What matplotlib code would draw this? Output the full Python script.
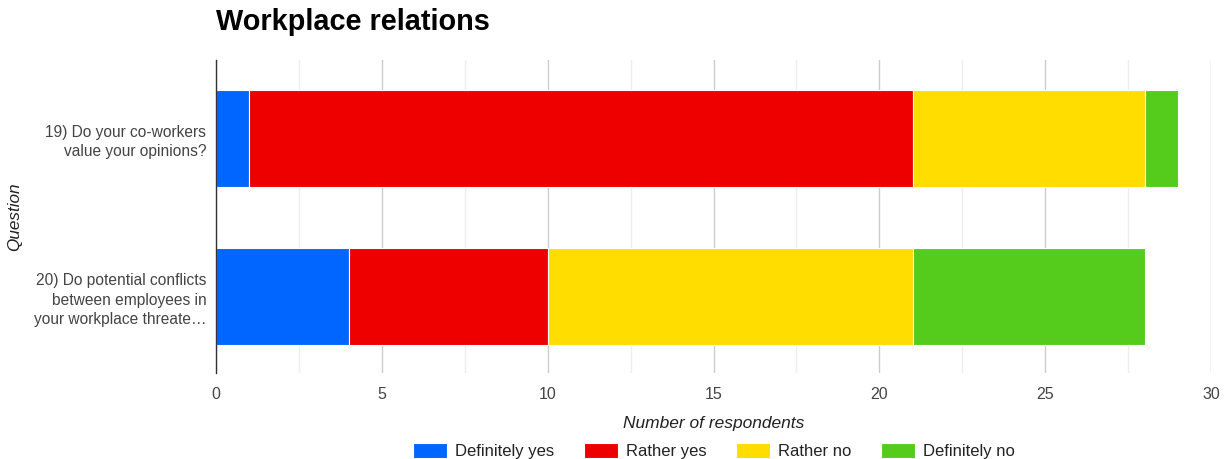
import matplotlib
matplotlib.use("Agg")
import matplotlib.pyplot as plt
from matplotlib.ticker import MultipleLocator
import numpy as np

plt.rcParams['font.family'] = ['Liberation Sans', 'DejaVu Sans']

questions = ["19) Do your co-workers\nvalue your opinions?",
             "20) Do potential conflicts\nbetween employees in\nyour workplace threate…"]
series_names = ["Definitely yes", "Rather yes", "Rather no", "Definitely no"]
definitely_yes = [1, 4]
rather_yes = [20, 6]
rather_no = [7, 11]
definitely_no = [1, 7]
colors = ["#0066FF", "#EE0000", "#FFDD00", "#55CC1C"]

fig = plt.figure(figsize=(12.29, 4.59), dpi=100)
ax = fig.add_axes([0.1758, 0.1874, 0.8096, 0.6819])

y = np.arange(len(questions))
left = np.zeros(len(questions))
for name, vals, c in zip(series_names, [definitely_yes, rather_yes, rather_no, definitely_no], colors):
    ax.barh(y, vals, left=left, height=0.614, color=c, edgecolor="white", linewidth=0.8, label=name, zorder=3)
    left += np.array(vals)

ax.set_xlim(0, 30)
ax.set_ylim(1.484, -0.497)
ax.set_yticks(y)
ax.set_yticklabels(questions, fontsize=11.2, color="#444444", ha="right", linespacing=1.35)
ax.xaxis.set_major_locator(MultipleLocator(5))
ax.xaxis.set_minor_locator(MultipleLocator(2.5))
ax.grid(which="major", axis="x", color="#cccccc", linewidth=1, zorder=0)
ax.grid(which="minor", axis="x", color="#eeeeee", linewidth=1, zorder=0)
ax.tick_params(axis="both", which="both", length=0, colors="#444444")
ax.tick_params(axis="x", pad=10, labelsize=11.5)
ax.tick_params(axis="y", pad=7)
for s in ["top", "right", "bottom"]:
    ax.spines[s].set_visible(False)
ax.spines["left"].set_color("#333333")
ax.spines["left"].set_linewidth(1)
ax.spines["left"].set_zorder(4)

ax.set_xlabel("Number of respondents", fontsize=12.5, style="italic", color="#222222", labelpad=10)
ax.set_ylabel("Question", fontsize=12.3, style="italic", color="#222222", labelpad=0)
ax.yaxis.set_label_coords(-0.195, 0.5)

fig.text(0.1758, 0.952, "Workplace relations", fontsize=20.8, fontweight="bold", color="#000000", va="center", ha="left")

handles, labels = ax.get_legend_handles_labels()
fig.legend(handles, labels, loc="center", bbox_to_anchor=(0.581, 0.018), ncol=4, frameon=False,
           fontsize=12, labelcolor="#222222", handlelength=2.05, handleheight=1.0, columnspacing=1.75,
           handletextpad=0.5)

fig.savefig("out.png", dpi=100)
